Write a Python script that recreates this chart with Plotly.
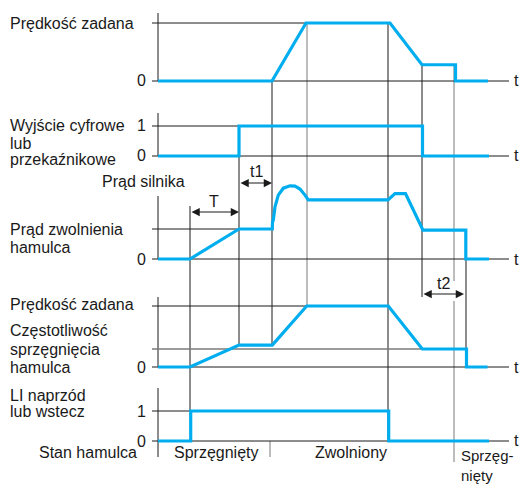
import plotly.graph_objects as go

# ---- signal data (time in arbitrary units, levels normalised per trace) ----
# Set-point speed
t_speed = [0, 11.4, 14.8, 23.2, 26.4, 29.75, 29.75, 33.0]
v_speed = [0, 0, 1, 1, 0.28, 0.28, 0, 0]

# Digital / relay output driving the brake
t_relay = [0, 8.1, 8.1, 26.45, 26.45, 33.1]
v_relay = [0, 0, 1, 1, 0, 0]

# Motor current (1 = brake release current)
t_current = [0, 3.2, 8.1, 11.43, 11.45, 11.53, 11.7, 12.03, 12.53, 13.2, 13.7,
             14.2, 14.7, 15.03, 23.0, 23.7, 24.75, 26.5, 30.78, 30.78, 33.1]
v_current = [0, 0, 1, 1, 1.23, 1.3, 1.74, 2.13, 2.36, 2.44, 2.43,
             2.33, 2.13, 1.97, 1.97, 2.18, 2.18, 0.96, 0.96, 0, 0]

# Output frequency (1 = set-point speed)
t_freq = [0, 3.2, 8.1, 11.43, 14.87, 23.03, 26.43, 30.85, 30.85, 32.95]
v_freq = [0, 0, 0.36, 0.36, 1, 1, 0.295, 0.295, 0, 0]

# Forward / reverse logic input
t_dir = [0, 3.27, 3.27, 23.07, 23.07, 33.1]
v_dir = [0, 0, 1, 1, 0, 0]

# Key instants of the sequence
t_dir_on = 3.2        # run command (start of T)
t_release = 8.1       # brake release current reached / relay on
t_ramp = 11.4         # end of t1, speed ramp starts
t_at_speed = 14.9     # speed reached
t_stop = 23.0         # run command removed
t_low = 26.4          # brake engage frequency reached
t_engage = 29.6       # brake engaged
t_t2_end = 30.8       # end of t2
t_end = 35.1          # end of time axes
t_state = 11.2        # boundary between brake states

brake_ref = 0.295     # brake engage frequency level (freq panel)

# brake state bar
state_labels = ["Sprzęgnięty", "Zwolniony"]
state_centers = [5.8, 19.3]

# ---- geometry ----
W, H = 521, 485
X0_PX, PX_PER_T = 158, 10.0
# each panel: (zero line px, px per unit, axis top px)
panels = [(81, 58, 13), (156, 30, 113), (259, 30, 196), (367, 61, 297), (441, 30, 388)]

BLUE = "#00AEEF"
INK = "#1a1a1a"
GREY = "#7a7a7a"
FONT = "Liberation Sans, Arial, sans-serif"
FS = 16
LX = 8


def py(k, v):
    """paper y of value v on panel k"""
    z, u, _ = panels[k]
    return 1 - (z - v * u) / H


def ppx(px):
    return 1 - px / H


def pxx(px):
    return px / W


fig = go.Figure()
series = [(t_speed, v_speed), (t_relay, v_relay), (t_current, v_current),
          (t_freq, v_freq), (t_dir, v_dir)]

layout_axes = {}
for k, (tx, vy) in enumerate(series):
    name = "y" if k == 0 else f"y{k + 1}"
    fig.add_trace(go.Scatter(x=tx, y=vy, mode="lines", yaxis=name,
                             line=dict(color=BLUE, width=3.2),
                             hoverinfo="skip", showlegend=False))
    z, u, _ = panels[k]
    ax = dict(range=[(z - H) / u, z / u], domain=[0, 1], visible=False,
              fixedrange=True)
    if k > 0:
        ax["overlaying"] = "y"
    layout_axes["yaxis" if k == 0 else f"yaxis{k + 1}"] = ax

shapes = []


def hline(k, v, t0, t1, color=INK, width=1):
    shapes.append(dict(type="line", xref="x", yref="y" if k == 0 else f"y{k + 1}",
                       x0=t0, x1=t1, y0=v, y1=v, line=dict(color=color, width=width),
                       layer="below"))


def vline(t, p0, p1, color=INK, width=1):
    shapes.append(dict(type="line", xref="x", yref="paper", x0=t, x1=t,
                       y0=p0, y1=p1, line=dict(color=color, width=width),
                       layer="below"))


TICK = -0.6
# panel axes and reference lines
for k, (z, u, top) in enumerate(panels):
    bottom = 457 if k == 4 else z
    vline(0, ppx(top), ppx(bottom))
    hline(k, 0, TICK, t_end)
hline(0, 1, TICK, t_at_speed)
hline(1, 1, TICK, t_release)
hline(2, 1, TICK, t_release)
hline(3, 1, TICK, t_at_speed)
hline(3, brake_ref, TICK, t_low, color=GREY, width=1.3)
hline(4, 1, TICK, t_dir_on)

# vertical timing guides
vline(t_dir_on, ppx(206), py(4, 1))
vline(t_release, py(1, 1), py(3, 0.36))
vline(t_ramp, py(0, 0), py(3, 0.36))
vline(t_at_speed, py(0, 1), py(3, 1), color=GREY)
vline(t_stop, py(0, 1), py(4, 0))
vline(t_low, py(0, 0.28), ppx(297))
vline(t_engage, py(0, 0.28), ppx(281), color=GREY)
vline(t_engage, ppx(301), ppx(462), color=GREY)
vline(t_t2_end, py(2, 0.96), py(3, brake_ref))
vline(t_state, py(4, 0), ppx(457), color=GREY)

annotations = []


def text(s, x, y, anchor="left", size=FS):
    annotations.append(dict(text=s, x=pxx(x), y=ppx(y), xref="paper", yref="paper",
                            xanchor=anchor, yanchor="middle", showarrow=False,
                            font=dict(family=FONT, size=size, color=INK)))


def dim_arrow(t0, t1, px):
    annotations.append(dict(text="", x=t1, y=ppx(px), xref="x", yref="paper",
                            ax=t0, ay=0, axref="x", ayref="pixel",
                            showarrow=True, arrowside="end+start", arrowhead=2,
                            arrowsize=1.5, arrowwidth=1.1, arrowcolor=INK,
                            standoff=0, startstandoff=0))


# left-hand labels
text("Prędkość zadana", LX, 23)
text("Wyjście cyfrowe", LX, 126)
text("lub", LX, 143)
text("przekaźnikowe", LX, 160)
text("Prąd silnika", 187, 181, anchor="right")
text("Prąd zwolnienia", LX, 229)
text("hamulca", LX, 248)
text("Prędkość zadana", LX, 304)
text("Częstotliwość", LX, 330)
text("sprzęgnięcia", LX, 349)
text("hamulca", LX, 367)
text("LI naprzód", LX, 395)
text("lub wstecz", LX, 411)
text("Stan hamulca", 139, 452, anchor="right")

# level labels
for s, y in [("0", 81), ("1", 126), ("0", 156), ("0", 259), ("0", 367),
             ("1", 411), ("0", 441)]:
    text(s, 148, y, anchor="right")

# time axis labels
for y in [81, 156, 259, 367, 440]:
    text("t", 512, y)

# timing dimensions
dim_arrow(t_dir_on, t_release, 212)
text("T", 214, 201, anchor="center")
dim_arrow(t_release, t_ramp, 183)
text("t1", 256, 171, anchor="center")
dim_arrow(t_low, 30.6, 294)
text("t2", 443, 283, anchor="center")

# brake state
for s, c in zip(state_labels, state_centers):
    text(s, X0_PX + c * PX_PER_T, 452, anchor="center")
text("Sprzęg-", 459, 455, size=15)
text("nięty", 459, 475, size=15)

fig.update_layout(
    width=W, height=H, margin=dict(l=0, r=0, t=0, b=0),
    paper_bgcolor="white", plot_bgcolor="white", showlegend=False,
    xaxis=dict(range=[-X0_PX / PX_PER_T, (W - X0_PX) / PX_PER_T], visible=False,
               fixedrange=True),
    shapes=shapes, annotations=annotations,
    **layout_axes,
)

fig.write_html("out.html", config={"displayModeBar": False})
